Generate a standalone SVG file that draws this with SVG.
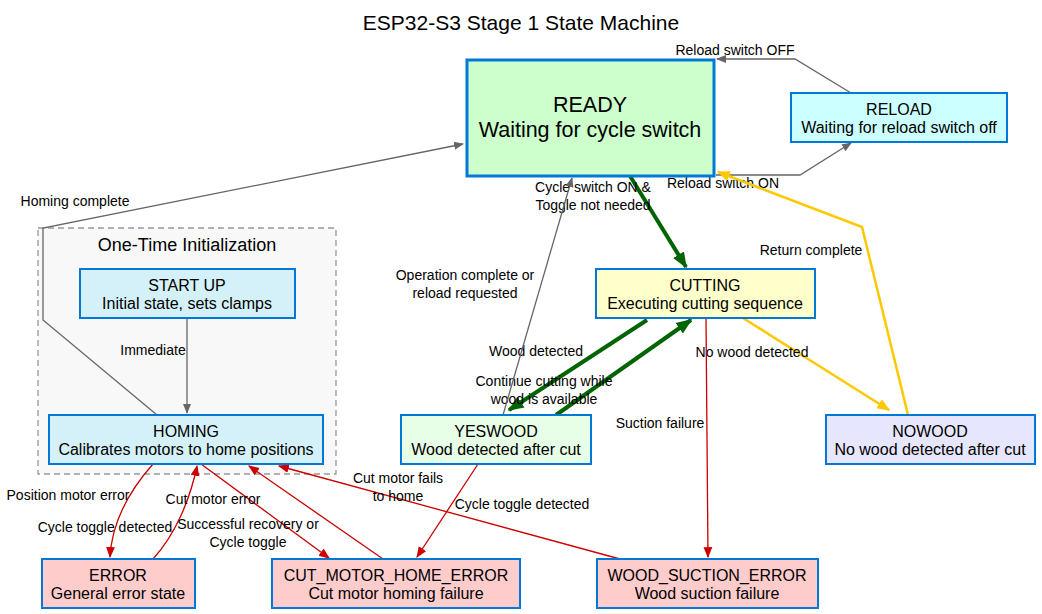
<svg xmlns="http://www.w3.org/2000/svg" width="1042" height="614" viewBox="0 0 1042 614">
<defs>
<style>
text{font-family:"Liberation Sans",Arial,sans-serif;fill:#000;text-anchor:middle}
.t{font-size:21px}
.n{font-size:16px}
.big{font-size:21.5px}
.e{font-size:14px}
.box{stroke:#0078D7;stroke-width:2}
.g{fill:none;stroke:#666;stroke-width:1.3}
.r{fill:none;stroke:#CC0000;stroke-width:1.3}
.gr{fill:none;stroke:#006400;stroke-width:4}
.y{fill:none;stroke:#FFC800;stroke-width:2.5}
</style>
<marker id="ag" viewBox="0 0 10 10" refX="9" refY="5" markerWidth="10" markerHeight="10" markerUnits="userSpaceOnUse" orient="auto"><path d="M0,1 L10,5 L0,9 z" fill="#666"/></marker>
<marker id="ar" viewBox="0 0 10 10" refX="9" refY="5" markerWidth="11" markerHeight="11" markerUnits="userSpaceOnUse" orient="auto"><path d="M0,1 L10,5 L0,9 z" fill="#CC0000"/></marker>
<marker id="agr" viewBox="0 0 10 10" refX="9" refY="5" markerWidth="16" markerHeight="16" markerUnits="userSpaceOnUse" orient="auto"><path d="M0,1 L10,5 L0,9 z" fill="#006400"/></marker>
<marker id="ay" viewBox="0 0 10 10" refX="9" refY="5" markerWidth="13" markerHeight="13" markerUnits="userSpaceOnUse" orient="auto"><path d="M0,1 L10,5 L0,9 z" fill="#FFC800"/></marker>
</defs>
<rect width="1042" height="614" fill="#fff"/>
<text class="t" x="521" y="30">ESP32-S3 Stage 1 State Machine</text>

<g id="cluster_init">
<rect x="38" y="228" width="298" height="246" fill="#F8F8F8" stroke="#999" stroke-width="1.3" stroke-dasharray="6,4"/>
<text x="187" y="251" style="font-size:18px">One-Time Initialization</text>
</g>

<g id="connectors">
<polyline class="g" points="157,415 43,320 43,228 463,144" marker-end="url(#ag)"/>
<text class="e" x="75" y="206">Homing complete</text>
<line class="g" x1="187" y1="318" x2="187" y2="413" marker-end="url(#ag)"/>
<text class="e" x="153" y="355">Immediate</text>
<line class="gr" x1="630" y1="176" x2="686" y2="267" marker-end="url(#agr)"/>
<text class="e" x="593" y="192">Cycle switch ON &amp;</text>
<text class="e" x="593" y="210">Toggle not needed</text>
<polyline class="g" points="716,175 800,175 851,143" marker-end="url(#ag)"/>
<text class="e" x="723" y="188">Reload switch ON</text>
<polyline class="g" points="851,93 795,59 717,59" marker-end="url(#ag)"/>
<text class="e" x="735" y="55">Reload switch OFF</text>
<polyline class="y" points="908,415 862,227 718,172" marker-end="url(#ay)"/>
<text class="e" x="811" y="255">Return complete</text>
<line class="y" x1="743" y1="318" x2="889" y2="410" marker-end="url(#ay)"/>
<text class="e" x="752" y="357">No wood detected</text>
<line class="gr" x1="647" y1="320" x2="509" y2="410" marker-end="url(#agr)"/>
<text class="e" x="536" y="356">Wood detected</text>
<line class="gr" x1="556" y1="415" x2="691" y2="320" marker-end="url(#agr)"/>
<text class="e" x="544" y="386">Continue cutting while</text>
<text class="e" x="544" y="404">wood is available</text>
<line class="g" x1="503" y1="415" x2="572" y2="178" marker-end="url(#ag)"/>
<text class="e" x="465" y="280">Operation complete or</text>
<text class="e" x="465" y="298">reload requested</text>
<line class="r" x1="706" y1="318" x2="708" y2="557" marker-end="url(#ar)"/>
<text class="e" x="660" y="428">Suction failure</text>
<path class="r" d="M153,464 C130,490 112,520 110,557" marker-end="url(#ar)"/>
<text class="e" x="68" y="500">Position motor error</text>
<path class="r" d="M153,559 C175,535 190,500 197,466" marker-end="url(#ar)"/>
<text class="e" x="105" y="532">Cycle toggle detected</text>
<line class="r" x1="201" y1="464" x2="329" y2="558" marker-end="url(#ar)"/>
<text class="e" x="213" y="504">Cut motor error</text>
<line class="r" x1="383" y1="559" x2="249" y2="466" marker-end="url(#ar)"/>
<text class="e" x="248" y="529">Successful recovery or</text>
<text class="e" x="248" y="547">Cycle toggle</text>
<line class="r" x1="478" y1="464" x2="417" y2="557" marker-end="url(#ar)"/>
<text class="e" x="522" y="509">Cycle toggle detected</text>
<line class="r" x1="620" y1="559" x2="279" y2="466" marker-end="url(#ar)"/>
<text class="e" x="398" y="483">Cut motor fails</text>
<text class="e" x="398" y="501">to home</text>
</g>

<g id="READY">
<rect x="467" y="60" width="247" height="116" fill="#CCFFCC" stroke="#0078D7" stroke-width="3"/>
<text class="big" x="590" y="112">READY</text>
<text class="big" x="590" y="137">Waiting for cycle switch</text>
</g>
<g id="RELOAD">
<rect class="box" x="791" y="93" width="216" height="49" fill="#CCFFFF"/>
<text class="n" x="899" y="115">RELOAD</text>
<text class="n" x="899" y="133">Waiting for reload switch off</text>
</g>
<g id="CUTTING">
<rect class="box" x="596" y="269" width="219" height="49" fill="#FFFFCC"/>
<text class="n" x="705" y="291">CUTTING</text>
<text class="n" x="705" y="309">Executing cutting sequence</text>
</g>
<g id="START_UP">
<rect class="box" x="80" y="269" width="215" height="49" fill="#D4F1F9"/>
<text class="n" x="187" y="291">START UP</text>
<text class="n" x="187" y="309">Initial state, sets clamps</text>
</g>
<g id="HOMING">
<rect class="box" x="49" y="415" width="274" height="49" fill="#D4F1F9"/>
<text class="n" x="186" y="437">HOMING</text>
<text class="n" x="186" y="455">Calibrates motors to home positions</text>
</g>
<g id="YESWOOD">
<rect class="box" x="401" y="415" width="190" height="49" fill="#E6FFE6"/>
<text class="n" x="496" y="437">YESWOOD</text>
<text class="n" x="496" y="455">Wood detected after cut</text>
</g>
<g id="NOWOOD">
<rect class="box" x="826" y="415" width="209" height="49" fill="#E6E6FF"/>
<text class="n" x="930" y="437">NOWOOD</text>
<text class="n" x="930" y="455">No wood detected after cut</text>
</g>
<g id="ERROR">
<rect class="box" x="42" y="559" width="153" height="49" fill="#FFCCCC"/>
<text class="n" x="118" y="581">ERROR</text>
<text class="n" x="118" y="599">General error state</text>
</g>
<g id="CUT_MOTOR_HOME_ERROR">
<rect class="box" x="272" y="559" width="248" height="49" fill="#FFCCCC"/>
<text class="n" x="396" y="581">CUT_MOTOR_HOME_ERROR</text>
<text class="n" x="396" y="599">Cut motor homing failure</text>
</g>
<g id="WOOD_SUCTION_ERROR">
<rect class="box" x="597" y="559" width="221" height="49" fill="#FFCCCC"/>
<text class="n" x="707" y="581">WOOD_SUCTION_ERROR</text>
<text class="n" x="707" y="599">Wood suction failure</text>
</g>
</svg>
